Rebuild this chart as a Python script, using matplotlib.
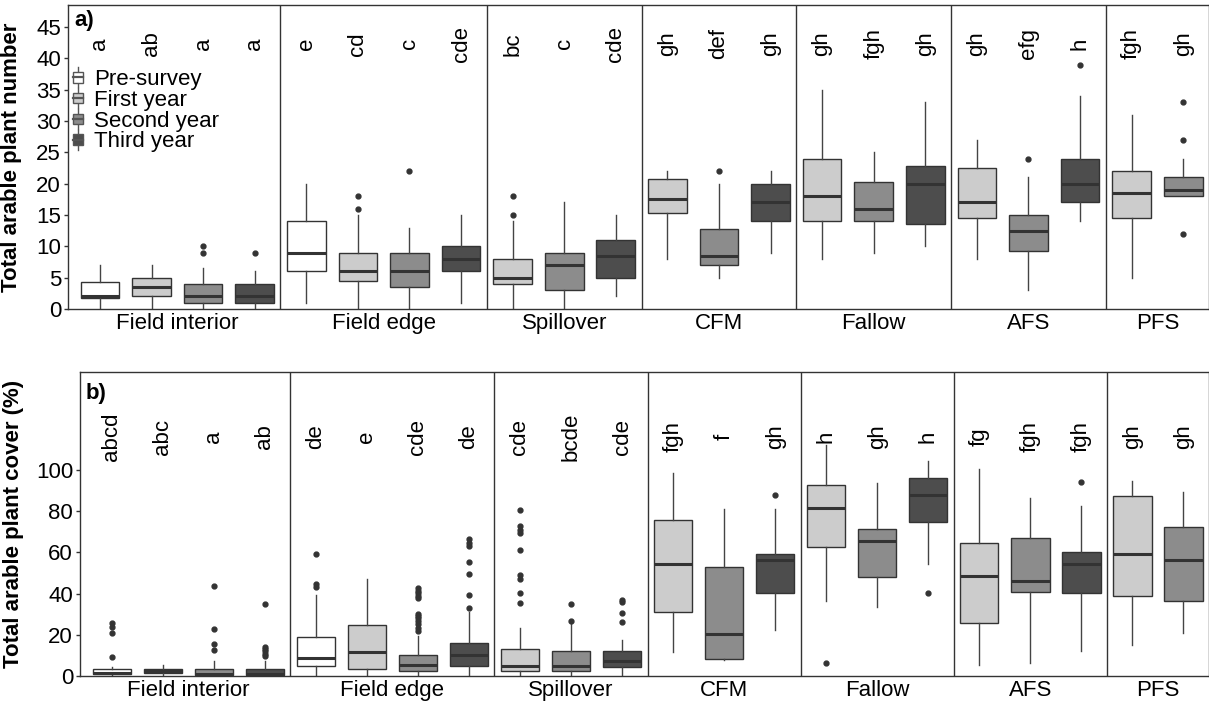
import numpy as np
import matplotlib
matplotlib.use("Agg")
import matplotlib.pyplot as plt
from matplotlib.legend_handler import HandlerBase
from matplotlib.patches import Rectangle
from matplotlib.lines import Line2D

plt.rcParams["font.family"] = ["Liberation Sans", "DejaVu Sans"]

groups = ["Field interior", "Field edge", "Spillover", "CFM", "Fallow", "AFS", "PFS"]
years = ["Pre-survey", "First year", "Second year", "Third year"]
# survey year index of each box, group by group
group_years = [[0, 1, 2, 3], [0, 1, 2, 3], [1, 2, 3], [1, 2, 3], [1, 2, 3], [1, 2, 3], [1, 2]]
year_colors = ["#ffffff", "#cccccc", "#8c8c8c", "#4d4d4d"]

# a) plant number
a_whislo = [0, 0, 0, 0, 1, 0, 0, 1, 0, 0, 2, 8, 5, 9, 8, 9, 10, 8, 3, 14, 5, 18]
a_q1 = [1.75, 2, 1, 1, 6, 4.5, 3.5, 6, 4, 3, 5, 15.25, 7, 14, 14, 14, 13.5, 14.5, 9.25, 17, 14.5, 18]
a_med = [2, 3.5, 2, 2, 9, 6, 6, 8, 5, 7, 8.5, 17.5, 8.5, 17, 18, 16, 20, 17, 12.5, 20, 18.5, 19]
a_q3 = [4.25, 5, 4, 4, 14, 9, 9, 10, 8, 9, 11, 20.75, 12.75, 20, 24, 20.25, 22.75, 22.5, 15, 24, 22, 21]
a_whishi = [7, 7, 6.6, 6, 20, 15, 13, 15, 14, 17, 15, 22, 20, 22, 35, 25, 33, 27, 21, 34, 31, 24]
a_fliers = [[], [], [10, 9], [9], [], [18, 16], [22], [], [18, 15], [], [],
            [], [22], [], [], [], [], [], [24], [39], [], [33, 27, 12]]
a_letters = ["a", "ab", "a", "a", "e", "cd", "c", "cde", "bc", "c", "cde",
             "gh", "def", "gh", "gh", "fgh", "gh", "gh", "efg", "h", "fgh", "gh"]

# b) plant cover
b_whislo = [0, 0, 0, 0, 0.7, 0.7, 0, 0.7, 0.7, 0, 0.7, 11.7, 7.6, 22.4,
            36.5, 33.3, 54.2, 5.5, 6.5, 12.2, 14.8, 20.9]
b_q1 = [0.8, 1.5, 0.3, 0.3, 4.7, 3.6, 2.3, 4.7, 2.3, 2.3, 4.4, 31, 8.3, 40.5,
        62.6, 48, 74.9, 25.6, 40.7, 40.4, 38.7, 36.5]
b_med = [1.5, 2.3, 1.2, 1.2, 8.5, 11.7, 5.5, 10, 4.9, 4.9, 7.5, 54.5, 20.6, 56.4,
         81.4, 65.6, 87.9, 48.5, 46, 54.2, 59.3, 56.2]
b_q3 = [3.6, 3.3, 3.3, 3.6, 18.7, 24.6, 10, 16.2, 13, 11.9, 11.9, 75.7, 52.7, 59.3,
        92.6, 71.3, 96, 64.5, 67.1, 60.1, 87.4, 72.5]
b_whishi = [4.5, 5.2, 7.1, 7.1, 39.2, 47, 19.5, 31.1, 23.3, 25.5, 17.4, 98.4, 81, 81,
            112, 93.5, 104.4, 100.3, 86.2, 82.5, 94.7, 89.5]
b_fliers = [[25.5, 24, 21, 9], [], [43.6, 23, 15.3, 12.5], [35, 14, 13, 12, 10.5, 9.5],
            [59.3, 44.7, 43], [],
            [42.5, 41.3, 40.2, 39, 37.9, 30.3, 29.2, 28, 26.6, 25, 23.3, 22],
            [66.5, 64.7, 63, 55.4, 49.6, 39.2, 32.8],
            [80.4, 72.8, 71, 69.2, 61, 49, 47.3, 40.2, 35.5], [35, 26.7], [37.1, 35.8, 30.6, 26.3],
            [], [], [87.9], [6.5], [], [40.4], [], [], [94], [], []]
b_letters = ["abcd", "abc", "a", "ab", "de", "e", "cde", "de", "cde", "bcde", "cde",
             "fgh", "f", "gh", "h", "gh", "h", "fg", "fgh", "fgh", "gh", "gh"]

box_years = [y for g in group_years for y in g]
positions = np.arange(len(box_years))
sizes = [len(g) for g in group_years]
bounds = np.cumsum(sizes)[:-1] - 0.5
starts = np.concatenate([[0], np.cumsum(sizes)[:-1]])
centers = [s + (n - 1) / 2 for s, n in zip(starts, sizes)]

EDGE = "#333333"


class BoxKey(HandlerBase):
    # little boxplot glyph for the legend keys
    def create_artists(self, legend, orig_handle, xdescent, ydescent,
                       width, height, fontsize, trans):
        cx = width / 2 - xdescent
        cy = height / 2 - ydescent
        bw, bh = width * 0.7, height * 0.62
        box = Rectangle((cx - bw / 2, cy - bh / 2), bw, bh,
                        facecolor=orig_handle.get_facecolor(), edgecolor="#555555",
                        lw=1.0, transform=trans)
        med = Line2D([cx - bw / 2, cx + bw / 2], [cy, cy], color="#555555", lw=1.6, transform=trans)
        wt = Line2D([cx, cx], [cy + bh / 2, height - ydescent + 1], color="#555555", lw=1, transform=trans)
        wb = Line2D([cx, cx], [cy - bh / 2, -ydescent - 1], color="#555555", lw=1, transform=trans)
        return [wt, wb, box, med]


def draw_panel(ax, whislo, q1, med, q3, whishi, fliers, letters, ylim, yticks, letter_y, ylabel):
    stats = [dict(whislo=a, q1=b, med=c, q3=d, whishi=e, fliers=f)
             for a, b, c, d, e, f in zip(whislo, q1, med, q3, whishi, fliers)]
    bp = ax.bxp(stats, positions=positions, widths=0.75, patch_artist=True, showcaps=False,
                boxprops=dict(edgecolor=EDGE, linewidth=1.0),
                whiskerprops=dict(color="#444444", linewidth=1.0),
                medianprops=dict(color=EDGE, linewidth=2.2),
                flierprops=dict(marker="o", markersize=3.5, markerfacecolor=EDGE,
                                markeredgecolor=EDGE, linestyle="none"))
    for patch, y in zip(bp["boxes"], box_years):
        patch.set_facecolor(year_colors[y])
    for x in bounds:
        ax.axvline(x, color=EDGE, lw=1.0)
    for x, s in zip(positions, letters):
        ax.text(x, letter_y, s, rotation=90, ha="center", va="center", fontsize=16)
    ax.set_xlim(-0.62, len(positions) - 0.5)
    ax.set_ylim(*ylim)
    ax.set_yticks(yticks)
    ax.set_xticks(centers)
    ax.set_xticklabels(groups)
    ax.tick_params(axis="x", length=0, labelsize=16, pad=3)
    ax.tick_params(axis="y", length=3, width=1, color=EDGE, labelsize=16, pad=2)
    for sp in ax.spines.values():
        sp.set_color(EDGE)
        sp.set_linewidth(1.0)
    ax.set_ylabel(ylabel, fontsize=16, fontweight="bold")


fig = plt.figure(figsize=(12.09, 7.06), dpi=100)
ax1 = fig.add_axes([0.0562, 0.5623, 0.9438, 0.4306])
ax2 = fig.add_axes([0.0662, 0.0425, 0.9338, 0.4306])

draw_panel(ax1, a_whislo, a_q1, a_med, a_q3, a_whishi, a_fliers, a_letters,
           (0, 48.5), range(0, 50, 5), 42.3, "Total arable plant number")
draw_panel(ax2, b_whislo, b_q1, b_med, b_q3, b_whishi, b_fliers, b_letters,
           (0, 147.5), range(0, 120, 20), 116, "Total arable plant cover (%)")

ax1.yaxis.set_label_coords(-0.040, 0.5)
ax2.yaxis.set_label_coords(-0.050, 0.5)

ax1.text(0.006, 0.985, "a)", transform=ax1.transAxes, ha="left", va="top",
         fontsize=16, fontweight="bold")
ax2.text(0.005, 0.965, "b)", transform=ax2.transAxes, ha="left", va="top",
         fontsize=16, fontweight="bold")

handles = [Rectangle((0, 0), 1, 1, facecolor=c) for c in year_colors]
ax1.legend(handles, years, handler_map={Rectangle: BoxKey()}, loc="upper left",
           bbox_to_anchor=(0.003, 0.79), frameon=False, fontsize=16,
           handlelength=0.62, handleheight=0.8, handletextpad=0.4,
           labelspacing=-0.02, borderpad=0, borderaxespad=0)

fig.savefig("out.png", dpi=100)
